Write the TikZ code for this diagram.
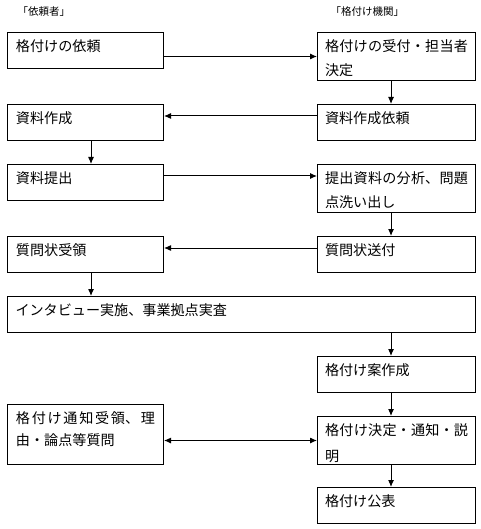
\documentclass[tikz,border=0pt]{standalone}
\usepackage{fontspec}
\setmainfont{Noto Sans CJK JP}
\usetikzlibrary{arrows.meta,positioning}
\XeTeXlinebreaklocale "ja"
\XeTeXlinebreakskip=0pt plus 2pt

\begin{document}
\begin{tikzpicture}[x=1pt, y=-1pt, line width=1pt,
  box/.style={draw, anchor=north west, inner ysep=0pt, align=justify, text height=19pt, text depth=17pt, font=\fontsize{14.1}{24}\selectfont},
  lbox/.style={box, inner xsep=8.5pt, text width=139pt},
  rbox/.style={box, inner xsep=7.5pt, text width=143pt},
  two/.style={text depth=29pt},
  head/.style={anchor=base west, inner sep=0pt, font=\fontsize{10.5}{12}\selectfont},
  arr/.style={-{Latex[length=7pt,width=6pt]}},
  darr/.style={{Latex[length=7pt,width=6pt]}-{Latex[length=7pt,width=6pt]}}]
\useasboundingbox (0,0) rectangle (480,529);
\coordinate (lx) at (91,0);
\coordinate (rx) at (391,0);

\node[head] (hcl) at (17,16) {「依頼者」};
\node[head] (hag) at (330,16) {「格付け機関」};

\node[lbox] (req) at (7,32) {格付けの依頼};
\node[rbox,two] (recv) at (317,32) {格付けの受付・担当者決定};
\node[lbox] (make) at (7,104) {資料作成};
\node[rbox] (mkreq) at (317,104) {資料作成依頼};
\node[lbox] (sub) at (7,164) {資料提出};
\node[rbox,two] (anal) at (317,164) {提出資料の分析、問題点洗い出し};
\node[lbox] (qrecv) at (7,236) {質問状受領};
\node[rbox] (qsend) at (317,236) {質問状送付};
\node[box, inner xsep=8pt, text width=452pt] (intv) at (7,296) {インタビュー実施、事業拠点実査};
\node[rbox] (draft) at (317,356) {格付け案作成};
\node[lbox, text depth=41pt, font=\fontsize{14.1}{22}\selectfont] (ans) at (7,404) {格付け通知受領、理由・論点等質問};
\node[rbox, two, font=\fontsize{14.1}{26}\selectfont] (dec) at (317,416) {格付け決定・通知・説明};
\node[rbox] (pub) at (317,487) {格付け公表};

\draw[arr] (req.east |- recv.west) -- (recv.west);
\draw[arr] (recv.south -| rx) -- (mkreq.north -| rx);
\draw[arr] ([yshift=-12pt]mkreq.north west) -- ([yshift=-12pt]make.north east);
\draw[arr] (make.south -| lx) -- (sub.north -| lx);
\draw[arr] ([yshift=-12pt]sub.north east) -- ([yshift=-12pt]anal.north west);
\draw[arr] (anal.south -| rx) -- (qsend.north -| rx);
\draw[arr] ([yshift=-12pt]qsend.north west) -- ([yshift=-12pt]qrecv.north east);
\draw[arr] (qrecv.south -| lx) -- (intv.north -| lx);
\draw[arr] (intv.south -| rx) -- (draft.north -| rx);
\draw[arr] (draft.south -| rx) -- (dec.north -| rx);
\draw[darr] (ans.east |- dec.west) -- (dec.west);
\draw[arr] (dec.south -| rx) -- (pub.north -| rx);
\end{tikzpicture}
\end{document}
